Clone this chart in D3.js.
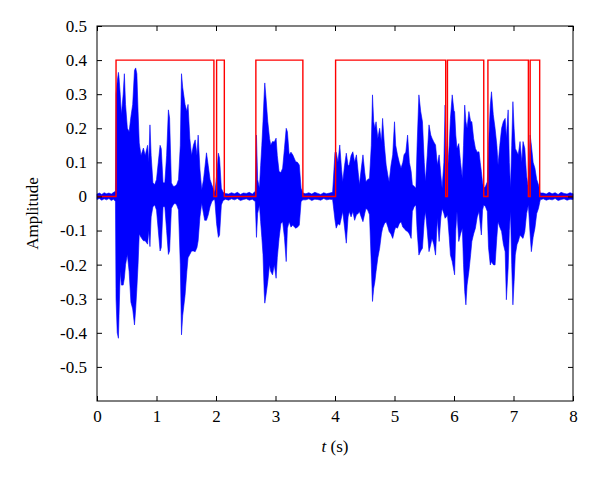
<!DOCTYPE html>
<html>
<head>
<meta charset="utf-8">
<script src="https://cdn.jsdelivr.net/npm/d3@7/dist/d3.min.js"></script>
<style>
  html, body { margin: 0; padding: 0; background: #fff; }
  svg { display: block; }
  text { font-family: "Liberation Serif", "DejaVu Serif", serif; }
</style>
</head>
<body>
<svg id="chart" width="600" height="477"></svg>
<script>
// ---- Data ----
const xTicks = [0, 1, 2, 3, 4, 5, 6, 7, 8];
const yTicks = [0.5, 0.4, 0.3, 0.2, 0.1, 0, -0.1, -0.2, -0.3, -0.4, -0.5];
const yTickLabels = ["0.5", "0.4", "0.3", "0.2", "0.1", "0", "-0.1", "-0.2", "-0.3", "-0.4", "-0.5"];
const xLabel = "t";
const xUnit = " (s)";
const yLabel = "Amplitude";

// speech-detection gate (red): start and end times of detected segments
const gateOn  = [0.32, 2.01, 2.67, 4.01, 5.89, 6.57, 7.28];
const gateOff = [1.965, 2.14, 3.46, 5.86, 6.50, 7.25, 7.44];
const gateHigh = 0.4;

// speech waveform (blue): sample times, upper envelope, lower envelope
const sigT = [
  0.00,0.04,0.08,0.12,0.16,0.20,0.24,0.28,0.31,
  0.32,0.34,0.36,0.37,0.39,0.41,0.44,0.46,0.48,0.51,0.54,0.57,0.60,0.63,0.65,0.67,0.69,0.71,0.74,0.78,0.81,0.85,0.87,0.89,0.91,0.94,0.97,1.00,1.03,1.06,1.08,1.11,1.14,1.17,1.20,1.22,1.25,1.28,1.31,1.34,1.37,1.40,1.42,1.44,1.48,1.51,1.53,1.56,1.59,1.62,1.65,1.68,1.70,1.73,1.76,1.79,1.81,1.84,1.87,1.90,1.93,1.96,1.98,2.01,2.04,2.06,2.09,2.12,
  2.16,2.21,2.26,2.31,2.36,2.41,2.46,2.51,2.56,2.61,2.66,
  2.68,2.70,2.73,2.75,2.77,2.79,2.81,2.82,2.84,2.87,2.90,2.92,2.95,2.98,3.01,3.03,3.06,3.09,3.12,3.15,3.18,3.20,3.23,3.26,3.29,3.32,3.34,3.37,3.40,3.43,3.46,
  3.51,3.56,3.61,3.66,3.71,3.76,3.81,3.86,3.91,3.96,
  4.00,4.02,4.05,4.08,4.11,4.13,4.16,4.19,4.22,4.24,4.27,4.30,4.33,4.36,4.39,4.41,4.44,4.47,4.50,4.52,4.55,4.58,4.61,4.63,4.65,4.67,4.69,4.72,4.75,4.78,4.80,4.83,4.86,4.89,4.91,4.94,4.97,5.00,5.02,5.05,5.08,5.11,5.14,5.16,5.19,5.22,5.25,5.28,5.30,5.33,5.36,5.38,5.41,5.44,5.47,5.50,5.52,5.55,5.58,5.61,5.63,5.66,5.69,5.72,5.75,5.78,5.80,5.83,5.85,5.87,5.89,
  5.92,5.94,5.97,6.00,6.01,6.03,6.05,6.08,6.11,6.14,6.16,6.18,6.20,6.22,6.25,6.28,6.30,6.33,6.36,6.39,6.42,6.44,6.46,6.48,6.50,6.53,6.56,6.58,6.61,6.63,6.66,6.69,6.72,6.74,6.77,6.80,6.83,6.86,6.88,6.91,6.93,6.95,6.97,6.99,7.01,7.03,7.06,7.08,7.11,7.14,7.16,7.19,7.22,7.25,7.28,7.30,7.33,7.36,7.39,7.42,7.45,
  7.50,7.55,7.60,7.65,7.70,7.75,7.80,7.85,7.90,7.95,8.00
];
const sigHi = [
  0.007,0.010,0.006,0.011,0.008,0.010,0.007,0.012,0.015,
  0.300,0.337,0.364,0.350,0.300,0.240,0.300,0.360,0.270,0.200,0.190,0.234,0.270,0.370,0.377,0.360,0.250,0.157,0.120,0.142,0.120,0.150,0.100,0.210,0.120,0.040,0.035,0.050,0.100,0.150,0.140,0.040,0.040,0.120,0.254,0.230,0.040,0.030,0.030,0.035,0.050,0.150,0.360,0.320,0.270,0.250,0.270,0.170,0.120,0.150,0.166,0.120,0.180,0.080,0.020,0.050,0.080,0.128,0.090,0.050,0.034,0.020,0.010,0.060,0.127,0.112,0.024,0.012,
  0.009,0.007,0.011,0.008,0.012,0.006,0.010,0.009,0.012,0.007,0.015,
  0.180,0.050,0.024,0.090,0.150,0.220,0.300,0.333,0.290,0.220,0.170,0.150,0.161,0.160,0.171,0.120,0.073,0.070,0.083,0.140,0.200,0.190,0.122,0.130,0.122,0.110,0.102,0.100,0.092,0.024,0.010,
  0.008,0.011,0.007,0.012,0.009,0.006,0.011,0.008,0.010,0.012,
  0.130,0.130,0.100,0.151,0.080,0.043,0.090,0.127,0.090,0.092,0.120,0.131,0.100,0.122,0.070,0.034,0.080,0.122,0.070,0.043,0.050,0.053,0.150,0.298,0.220,0.200,0.219,0.170,0.200,0.160,0.229,0.150,0.092,0.060,0.043,0.090,0.122,0.219,0.150,0.122,0.100,0.083,0.100,0.122,0.130,0.180,0.100,0.073,0.034,0.030,0.024,0.150,0.298,0.250,0.219,0.100,0.043,0.120,0.210,0.180,0.171,0.160,0.151,0.092,0.122,0.060,0.024,0.100,0.268,0.150,0.073,
  0.150,0.229,0.298,0.250,0.249,0.180,0.141,0.155,0.100,0.053,0.150,0.268,0.220,0.200,0.249,0.220,0.219,0.170,0.141,0.130,0.131,0.100,0.073,0.040,0.024,0.030,0.043,0.150,0.268,0.307,0.240,0.200,0.150,0.092,0.150,0.200,0.220,0.229,0.171,0.254,0.100,0.024,0.150,0.278,0.200,0.141,0.130,0.122,0.161,0.100,0.161,0.141,0.060,0.024,0.180,0.151,0.100,0.083,0.050,0.034,0.010,
  0.010,0.007,0.012,0.008,0.011,0.006,0.012,0.009,0.007,0.011,0.008
];
const sigLo = [
  -0.009,-0.006,-0.011,-0.007,-0.010,-0.006,-0.012,-0.008,-0.015,
  -0.300,-0.400,-0.416,-0.350,-0.220,-0.260,-0.260,-0.240,-0.200,-0.170,-0.220,-0.310,-0.330,-0.377,-0.330,-0.270,-0.200,-0.110,-0.120,-0.130,-0.130,-0.140,-0.100,-0.147,-0.060,-0.030,-0.025,-0.040,-0.100,-0.160,-0.150,-0.030,-0.030,-0.100,-0.170,-0.160,-0.035,-0.025,-0.020,-0.025,-0.040,-0.200,-0.406,-0.350,-0.290,-0.220,-0.180,-0.170,-0.160,-0.160,-0.162,-0.150,-0.130,-0.060,-0.020,-0.050,-0.070,-0.070,-0.054,-0.030,-0.015,-0.010,-0.010,-0.080,-0.120,-0.113,-0.025,-0.012,
  -0.008,-0.011,-0.007,-0.010,-0.006,-0.012,-0.009,-0.007,-0.011,-0.008,-0.015,
  -0.120,-0.050,-0.025,-0.074,-0.120,-0.170,-0.280,-0.313,-0.290,-0.250,-0.200,-0.220,-0.230,-0.200,-0.240,-0.180,-0.123,-0.080,-0.074,-0.120,-0.191,-0.093,-0.074,-0.090,-0.084,-0.090,-0.093,-0.090,-0.084,-0.015,-0.010,
  -0.010,-0.007,-0.012,-0.008,-0.009,-0.011,-0.006,-0.010,-0.008,-0.009,
  -0.070,-0.093,-0.080,-0.084,-0.060,-0.044,-0.090,-0.137,-0.060,-0.044,-0.060,-0.044,-0.070,-0.054,-0.050,-0.044,-0.060,-0.074,-0.050,-0.035,-0.040,-0.054,-0.200,-0.308,-0.270,-0.250,-0.220,-0.180,-0.152,-0.110,-0.093,-0.080,-0.074,-0.090,-0.103,-0.110,-0.123,-0.100,-0.090,-0.093,-0.080,-0.074,-0.090,-0.093,-0.100,-0.103,-0.110,-0.123,-0.044,-0.030,-0.025,-0.100,-0.172,-0.160,-0.152,-0.070,-0.044,-0.100,-0.162,-0.140,-0.123,-0.140,-0.172,-0.064,-0.132,-0.060,-0.035,-0.050,-0.064,-0.060,-0.054,
  -0.120,-0.172,-0.191,-0.220,-0.230,-0.100,-0.044,-0.132,-0.110,-0.093,-0.200,-0.279,-0.318,-0.260,-0.220,-0.170,-0.132,-0.110,-0.093,-0.060,-0.044,-0.080,-0.113,-0.040,-0.025,-0.030,-0.044,-0.150,-0.201,-0.191,-0.200,-0.201,-0.120,-0.074,-0.090,-0.103,-0.140,-0.162,-0.303,-0.210,-0.100,-0.044,-0.200,-0.318,-0.250,-0.172,-0.140,-0.132,-0.113,-0.120,-0.123,-0.103,-0.050,-0.025,-0.113,-0.162,-0.120,-0.093,-0.050,-0.035,-0.010,
  -0.007,-0.011,-0.008,-0.010,-0.006,-0.012,-0.009,-0.007,-0.011,-0.008,-0.009
];

// ---- Layout ----
const svg = d3.select("#chart");
const mL = 97, mR = 573, mT = 26, mB = 401;
const x = d3.scaleLinear().domain([0, 8]).range([mL, mR]);
const y = d3.scaleLinear().domain([-0.6, 0.5]).range([mB, mT]);

if (sigT.length !== sigHi.length || sigT.length !== sigLo.length) {
  console.error("length mismatch", sigT.length, sigHi.length, sigLo.length);
}
const nSig = Math.min(sigT.length, sigHi.length, sigLo.length);

// waveform
const sig = d3.range(nSig).map(i => ({ t: sigT[i], hi: sigHi[i], lo: sigLo[i] }));
const area = d3.area()
  .x(d => x(d.t))
  .y0(d => y(d.lo))
  .y1(d => y(d.hi));
svg.append("path")
  .datum(sig)
  .attr("d", area)
  .attr("fill", "#0000ff")
  .attr("stroke", "#0000ff")
  .attr("stroke-width", 0.6);

// gate (red)
const gatePts = [{ t: 0, v: 0 }];
gateOn.forEach((on, i) => {
  gatePts.push({ t: on, v: 0 });
  gatePts.push({ t: on, v: gateHigh });
  gatePts.push({ t: gateOff[i], v: gateHigh });
  gatePts.push({ t: gateOff[i], v: 0 });
});
gatePts.push({ t: 8, v: 0 });
svg.append("path")
  .datum(gatePts)
  .attr("d", d3.line().x(d => x(d.t)).y(d => y(d.v)))
  .attr("fill", "none")
  .attr("stroke", "#ff0000")
  .attr("stroke-width", 1.4);

// axes with inward ticks
const tickLen = 5;
const gL = svg.append("g").attr("transform", `translate(${mL},0)`)
  .call(d3.axisLeft(y).tickValues(yTicks).tickSizeInner(-tickLen).tickSizeOuter(0).tickPadding(10)
    .tickFormat((d, i) => yTickLabels[i]));
const gB = svg.append("g").attr("transform", `translate(0,${mB})`)
  .call(d3.axisBottom(x).tickValues(xTicks).tickSizeInner(-tickLen).tickSizeOuter(0).tickPadding(9)
    .tickFormat(d => String(d)));
const gR = svg.append("g").attr("transform", `translate(${mR},0)`)
  .call(d3.axisRight(y).tickValues(yTicks).tickSizeInner(-tickLen).tickSizeOuter(0).tickFormat(""));
const gT = svg.append("g").attr("transform", `translate(0,${mT})`)
  .call(d3.axisTop(x).tickValues(xTicks).tickSizeInner(-tickLen).tickSizeOuter(0).tickFormat(""));
[gL, gB, gR, gT].forEach(g => {
  g.select(".domain").remove();
  g.selectAll("line").attr("stroke", "#000").attr("stroke-width", 1);
  g.selectAll("text").attr("font-family", "'Liberation Serif', serif").attr("font-size", 17).attr("fill", "#000");
});

// frame
svg.append("rect")
  .attr("x", mL).attr("y", mT)
  .attr("width", mR - mL).attr("height", mB - mT)
  .attr("fill", "none").attr("stroke", "#000").attr("stroke-width", 1);

// axis titles
const xt = svg.append("text")
  .attr("x", (mL + mR) / 2).attr("y", 452)
  .attr("text-anchor", "middle")
  .attr("font-size", 17).attr("fill", "#000");
xt.append("tspan").attr("font-style", "italic").text(xLabel);
xt.append("tspan").text(xUnit);

svg.append("text")
  .attr("transform", `translate(38,${(mT + mB) / 2}) rotate(-90)`)
  .attr("text-anchor", "middle")
  .attr("font-size", 17).attr("fill", "#000")
  .text(yLabel);
</script>
</body>
</html>
